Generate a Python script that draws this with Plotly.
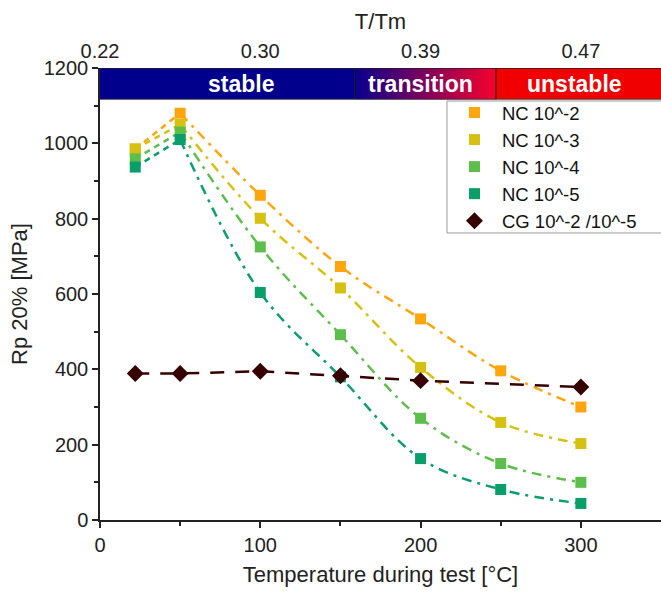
import plotly.graph_objects as go

# ---------------- data ----------------
temps = [22, 50, 100, 150, 200, 250, 300]
nc_2 = [985, 1080, 862, 673, 534, 396, 300]
nc_3 = [985, 1050, 801, 616, 405, 259, 203]
nc_4 = [959, 1030, 725, 492, 270, 150, 100]
nc_5 = [937, 1010, 604, 380, 163, 81, 44]
cg_temps = [22, 50, 100, 150, 200, 300]
cg = [389, 389, 395, 383, 370, 353]

series_names = ["NC 10^-2", "NC 10^-3", "NC 10^-4", "NC 10^-5"]
series_vals = [nc_2, nc_3, nc_4, nc_5]
series_colors = ["#FFA60F", "#D6C110", "#5DBE4C", "#0A9E6B"]
cg_name = "CG 10^-2 /10^-5"
cg_color = "#360000"

top_tick_pos = [0, 100, 200, 300]
top_tick_text = ["0.22", "0.30", "0.39", "0.47"]

regions = ["stable", "transition", "unstable"]
region_bounds = [0, 159, 247, 350]
band_range = [1117, 1200]

FONT = "Arial, Liberation Sans, sans-serif"

fig = go.Figure()

# fit lines
for name, vals, col in zip(series_names, series_vals, series_colors):
    fig.add_trace(go.Scatter(x=temps[:2], y=vals[:2], mode="lines",
                             line=dict(color=col, width=2.5, dash="6px,5px"),
                             showlegend=False, hoverinfo="skip"))
    fig.add_trace(go.Scatter(x=temps[1:], y=vals[1:], mode="lines",
                             line=dict(color=col, width=2.5, shape="spline",
                                       dash="10px,6px,3px,6px"),
                             showlegend=False, hoverinfo="skip"))
fig.add_trace(go.Scatter(x=cg_temps, y=cg, mode="lines",
                         line=dict(color=cg_color, width=2.5, dash="14px,11px"),
                         showlegend=False, hoverinfo="skip"))

# markers (legend entries)
for name, vals, col in zip(series_names, series_vals, series_colors):
    fig.add_trace(go.Scatter(x=temps, y=vals, mode="markers", name=name,
                             marker=dict(symbol="square", size=11, color=col)))
fig.add_trace(go.Scatter(x=cg_temps, y=cg, mode="markers", name=cg_name,
                         marker=dict(symbol="diamond", size=13, color=cg_color)))

# top axis dummy trace
fig.add_trace(go.Scatter(x=[None], y=[None], xaxis="x2", showlegend=False))

# ---------------- band ----------------
shapes = []
# legend frame
shapes.append(dict(type="rect", xref="paper", yref="paper", x0=0.6185, x1=1.02,
                   y0=0.635, y1=0.927, fillcolor="white",
                   line=dict(color="#999", width=1), layer="below"))
y0, y1 = band_range
shapes.append(dict(type="rect", xref="x", yref="y", x0=region_bounds[0], x1=region_bounds[1],
                   y0=y0, y1=y1, fillcolor="#00008C", line=dict(width=0), layer="above"))
shapes.append(dict(type="rect", xref="x", yref="y", x0=region_bounds[2], x1=region_bounds[3],
                   y0=y0, y1=y1, fillcolor="#F00000", line=dict(width=0), layer="above"))
n = 45
c_start = (10, 0, 140)
c_end = (245, 0, 45)
xa, xb = region_bounds[1], region_bounds[2]
for i in range(n):
    t = i / (n - 1)
    c = tuple(int(round(c_start[k] + (c_end[k] - c_start[k]) * t)) for k in range(3))
    x_left = xa + (xb - xa) * i / n
    x_right = min(xb, xa + (xb - xa) * (i + 1) / n + 1.5)
    shapes.append(dict(type="rect", xref="x", yref="y",
                       x0=x_left, x1=x_right,
                       y0=y0, y1=y1, fillcolor="rgb(%d,%d,%d)" % c,
                       line=dict(width=0), layer="above"))
for b in region_bounds[1:3]:
    shapes.append(dict(type="line", xref="x", yref="y", x0=b, x1=b, y0=y0, y1=y1,
                       line=dict(color="#101010", width=1), layer="above"))
shapes.append(dict(type="line", xref="paper", yref="y", x0=0, x1=1, y0=y1, y1=y1,
                   line=dict(color="#222", width=1.5), layer="above"))
shapes.append(dict(type="line", xref="paper", yref="y", x0=0, x1=1, y0=y0, y1=y0,
                   line=dict(color="#333", width=0.8), layer="above"))

annotations = []
label_x = [88, 200, 296]
for lab, lx in zip(regions, label_x):
    annotations.append(dict(x=lx, y=(y0 + y1) / 2, xref="x", yref="y", text="<b>%s</b>" % lab,
                            showarrow=False, font=dict(family=FONT, size=23, color="white")))

fig.update_layout(
    width=661, height=592,
    margin=dict(l=100, r=0, t=68, b=72),
    paper_bgcolor="white", plot_bgcolor="white",
    font=dict(family=FONT, size=20, color="#222"),
    shapes=shapes, annotations=annotations,
    showlegend=True,
    legend=dict(x=0.6185, y=0.9425, xanchor="left", yanchor="top",
                bgcolor="rgba(0,0,0,0)", borderwidth=0,
                font=dict(family=FONT, size=18.5, color="#111"),
                itemwidth=45, tracegroupgap=0, itemsizing="trace"),
    xaxis=dict(range=[0, 350], tickvals=[0, 100, 200, 300], ticks="outside",
               ticklen=6, tickwidth=1.5, tickcolor="#222",
               minor=dict(tickvals=[50, 150, 250], ticks="outside", ticklen=4, tickwidth=1.5, tickcolor="#222"),
               showline=True, linecolor="#222", linewidth=1.5, showgrid=False, zeroline=False,
               title=dict(text="Temperature during test [°C]", font=dict(size=22), standoff=12)),
    xaxis2=dict(range=[0, 350], overlaying="x", side="top", tickvals=top_tick_pos,
                ticktext=top_tick_text, ticks="", ticklabelstandoff=5,
                showline=False, showgrid=False, zeroline=False,
                title=dict(text="T/Tm", font=dict(size=22), standoff=4)),
    yaxis=dict(range=[0, 1200], tickvals=[0, 200, 400, 600, 800, 1000, 1200], ticks="outside",
               ticklen=6, tickwidth=1.5, tickcolor="#222",
               minor=dict(tickvals=[100, 300, 500, 700, 900, 1100], ticks="outside", ticklen=4, tickwidth=1.5, tickcolor="#222"),
               showline=True, linecolor="#222", linewidth=1.5, showgrid=False, zeroline=False,
               title=dict(text="Rp 20% [MPa]", font=dict(size=22), standoff=10)),
)

fig.write_html("out.html")
